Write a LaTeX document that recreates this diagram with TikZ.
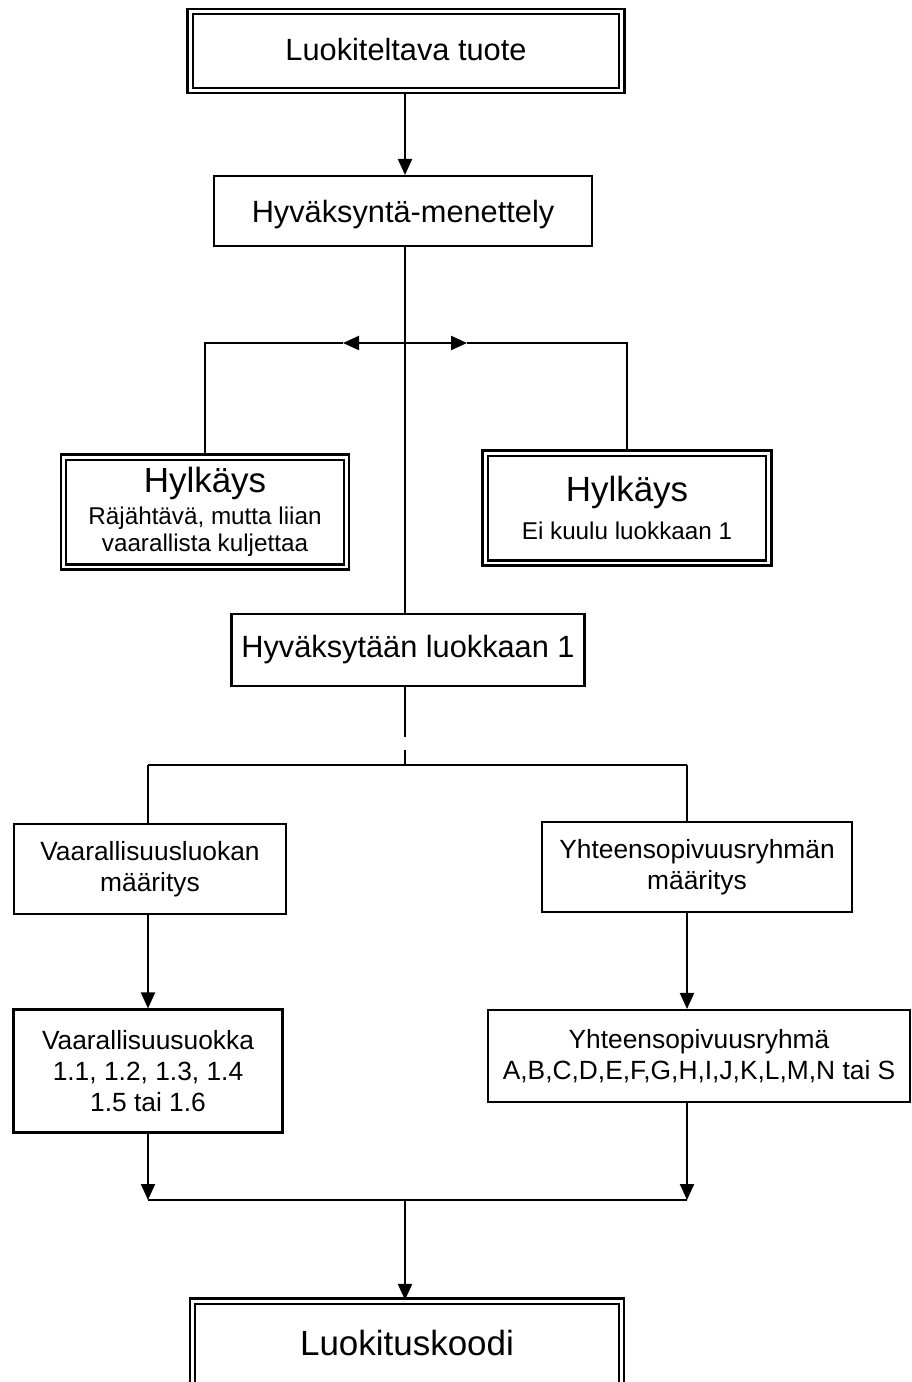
\documentclass[tikz,border=0pt]{standalone}
\usepackage{fontspec}
\setmainfont{Liberation Sans}
\usetikzlibrary{arrows.meta}
\tikzset{
  box/.style={draw, rectangle, line width=1.2pt, align=center, inner sep=2pt},
  dbox/.style={box, double, double distance=1.7pt},
  mainfont/.style={font=\fontsize{17.5}{21}\selectfont},
  smallfont/.style={font=\fontsize{15}{17.6}\selectfont},
  notefont/.style={font=\fontsize{13.8}{15.3}\selectfont},
}
\newcommand{\titletxt}[1]{{\fontsize{19.9}{22}\selectfont #1}}
\begin{document}
\begin{tikzpicture}[x=0.02cm, y=-0.02cm, >={Triangle[length=0.32cm, width=0.28cm]}, line width=1.2pt]
\useasboundingbox (0,0) rectangle (912,1382);
\node[dbox, mainfont, minimum width=8.64cm, minimum height=1.58cm, text depth=0.05cm] (tuote) at (406,51) {Luokiteltava tuote};
\node[box, mainfont, minimum width=7.56cm, minimum height=1.4cm, text depth=0pt] (hyv) at (403,211) {Hyväksyntä-menettely};
\node[dbox, notefont, minimum width=5.66cm, minimum height=2.2cm] (hylA) at (205,512) {\titletxt{Hylkäys}\\[3pt]Räjähtävä, mutta liian\\vaarallista kuljettaa};
\node[dbox, notefont, minimum width=5.68cm, minimum height=2.2cm] (hylB) at (627,508) {\titletxt{Hylkäys}\\[6pt]Ei kuulu luokkaan 1};
\node[box, mainfont, minimum width=7.06cm, minimum height=1.44cm] (acc) at (408,650) {Hyväksytään luokkaan 1};
\node[box, smallfont, minimum width=5.44cm, minimum height=1.8cm] (vlk) at (150,869) {Vaarallisuusluokan\\määritys};
\node[box, smallfont, minimum width=6.2cm, minimum height=1.8cm] (yht) at (697,867) {Yhteensopivuusryhmän\\määritys};
\node[box, smallfont, minimum width=5.38cm, minimum height=2.46cm] (vk) at (148,1071) {Vaarallisuusuokka\\1.1, 1.2, 1.3, 1.4\\1.5 tai 1.6};
\node[box, smallfont, minimum width=8.44cm, minimum height=1.84cm] (yr) at (699,1056) {Yhteensopivuusryhmä\\A,B,C,D,E,F,G,H,I,J,K,L,M,N tai S};
\node[dbox, minimum width=8.58cm, minimum height=2.0cm, text depth=0.32cm, font=\fontsize{19.9}{22}\selectfont] (koodi) at (407,1351) {Luokituskoodi};
% junction points
\coordinate (fork) at (405,343);
\coordinate (tipL) at (343,343);
\coordinate (tipR) at (467,343);
\coordinate (gapT) at (405,737);
\coordinate (gapB) at (405,750);
\coordinate (branch) at (405,765);
\coordinate (bl) at (148,765);
\coordinate (br) at (687,765);
\coordinate (jl) at (148,1200);
\coordinate (jr) at (687,1200);
\coordinate (join) at (405,1200);
% connectors
\draw[->] (tuote.south -| fork) -- (hyv.north -| fork);
\draw (hyv.south -| fork) -- (acc.north -| fork);
\draw[->] (fork) -- (tipL);
\draw (tipL) -| (hylA.north);
\draw[->] (fork) -- (tipR);
\draw (tipR) -| (hylB.north);
\draw (acc.south -| gapT) -- (gapT);
\draw (gapB) -- (branch);
\draw (bl) -- (br);
\draw (bl) -- (vlk.north -| bl);
\draw (br) -- (yht.north -| br);
\draw[->] (vlk.south -| bl) -- (vk.north -| bl);
\draw[->] (yht.south -| br) -- (yr.north -| br);
\draw[->] (vk.south -| jl) -- (jl);
\draw[->] (yr.south -| jr) -- (jr);
\draw (jl) -- (jr);
\draw[->] (join) -- (koodi.north -| join);
\end{tikzpicture}
\end{document}
